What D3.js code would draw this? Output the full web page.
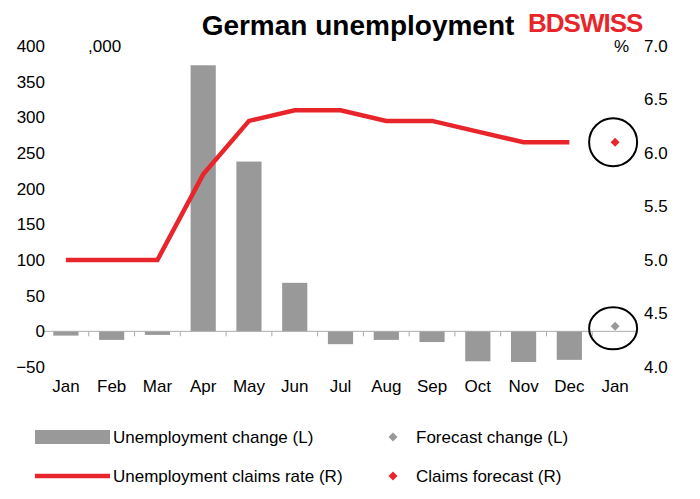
<!DOCTYPE html>
<html><head><meta charset="utf-8">
<script src="https://cdn.jsdelivr.net/npm/d3@7"></script>
<style>body{margin:0;background:#fff}text{font-family:"Liberation Sans",Arial,sans-serif}</style>
</head><body>
<svg id="c" width="700" height="499"></svg>
<script>
const months=["Jan","Feb","Mar","Apr","May","Jun","Jul","Aug","Sep","Oct","Nov","Dec","Jan "];
const change=[-6,-12,-5,373,238,68,-18,-12,-15,-42,-43,-40];
const rate=[5.0,5.0,5.0,5.8,6.3,6.4,6.4,6.3,6.3,6.2,6.1,6.1];
const forecastChange=7;
const forecastRate=6.1;
const leftTicks=[-50,0,50,100,150,200,250,300,350,400];
const rightTicks=[4.0,4.5,5.0,5.5,6.0,6.5,7.0];

const svg=d3.select("#c");
const L=43,R=638,T=46,B=367;
const x=d3.scaleBand().domain(months).range([L,R]).paddingInner(0.45).paddingOuter(0.225);
const xc=d=>x(d)+x.bandwidth()/2;
const yL=d3.scaleLinear().domain([-50,400]).range([B,T]);
const yR=d3.scaleLinear().domain([4,7]).range([B,T]);
const grey="#999999", red="#e8252a";

svg.append("text").attr("x",358).attr("y",35).attr("text-anchor","middle").attr("font-size",28).attr("font-weight","bold").text("German unemployment");
svg.append("text").attr("x",528).attr("y",32).attr("font-size",26).attr("font-weight","bold").attr("fill",red).attr("letter-spacing","-1").text("BDSWISS");

svg.selectAll("rect.bar").data(change).join("rect").attr("class","bar")
 .attr("x",(d,i)=>x(months[i])).attr("width",x.bandwidth())
 .attr("y",d=>yL(Math.max(0,d))).attr("height",d=>Math.abs(yL(d)-yL(0))).attr("fill",grey);

svg.append("line").attr("x1",L).attr("x2",R).attr("y1",yL(0)).attr("y2",yL(0)).attr("stroke","#aaa");
months.forEach((m,i)=>{const xx=x(m)-x.step()*x.paddingInner()/2; if(i>0) svg.append("line").attr("x1",xx).attr("x2",xx).attr("y1",yL(0)).attr("y2",yL(0)+5).attr("stroke","#aaa");});

const ga=svg.append("g").attr("transform",`translate(${L+4},0)`).call(d3.axisLeft(yL).tickValues(leftTicks).tickSize(0).tickPadding(2));
const gr=svg.append("g").attr("transform",`translate(${R},0)`).call(d3.axisRight(yR).tickValues(rightTicks).tickFormat(d3.format(".1f")).tickSize(0).tickPadding(6));
[ga,gr].forEach(g=>{g.selectAll("text").attr("font-size",17).attr("fill","#000").attr("font-family","Liberation Sans, Arial");g.select(".domain").remove();});
svg.append("text").attr("x",88).attr("y",52).attr("font-size",17).text(",000");
svg.append("text").attr("x",614).attr("y",52).attr("font-size",17).text("%");

svg.selectAll("text.xl").data(months).join("text").attr("class","xl").attr("x",xc).attr("y",392).attr("text-anchor","middle").attr("font-size",17).text(d=>d.trim());

svg.append("path").datum(rate).attr("fill","none").attr("stroke",red).attr("stroke-width",4.5)
 .attr("d",d3.line().x((d,i)=>xc(months[i])).y(d=>yR(d)));

const fx=xc(months[12]);
const dia=d3.symbol().type(d3.symbolSquare).size(40);
const place=(px,py)=>`translate(${px},${py}) rotate(45)`;
svg.append("path").attr("d",dia).attr("transform",place(fx,yL(forecastChange))).attr("fill",grey);
svg.append("path").attr("d",dia).attr("transform",place(fx,yR(forecastRate))).attr("fill",red);
svg.append("ellipse").attr("cx",fx-2).attr("cy",yR(forecastRate)).attr("rx",24).attr("ry",24).attr("fill","none").attr("stroke","#000").attr("stroke-width",2);
svg.append("ellipse").attr("cx",fx-2).attr("cy",yL(forecastChange)+2).attr("rx",24).attr("ry",21).attr("fill","none").attr("stroke","#000").attr("stroke-width",2);

svg.append("rect").attr("x",35).attr("y",430).attr("width",75).attr("height",14).attr("fill",grey);
svg.append("text").attr("x",113).attr("y",443).attr("font-size",17).text("Unemployment change (L)");
svg.append("path").attr("d",dia).attr("transform",place(393,437)).attr("fill",grey);
svg.append("text").attr("x",416).attr("y",443).attr("font-size",17).text("Forecast change (L)");
svg.append("line").attr("x1",35).attr("x2",110).attr("y1",476).attr("y2",476).attr("stroke",red).attr("stroke-width",4.5);
svg.append("text").attr("x",113).attr("y",482).attr("font-size",17).text("Unemployment claims rate (R)");
svg.append("path").attr("d",dia).attr("transform",place(393,476)).attr("fill",red);
svg.append("text").attr("x",416).attr("y",482).attr("font-size",17).text("Claims forecast (R)");
</script></body></html>
